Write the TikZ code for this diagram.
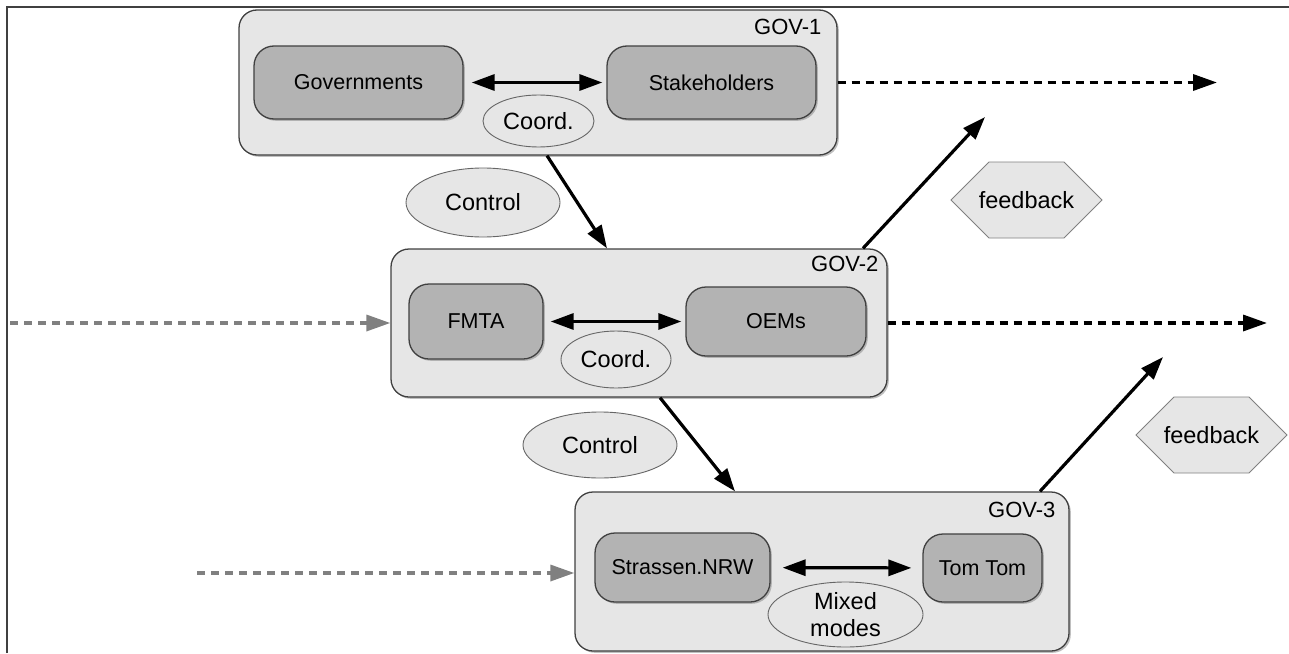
\documentclass[tikz,border=0pt]{standalone}
\usepackage{fontspec}
\setmainfont{Liberation Sans}
\usepackage{tikz}
\usetikzlibrary{positioning}
\usetikzlibrary{shapes.geometric}
\usetikzlibrary{arrows.meta}
\usetikzlibrary{shadows}
\definecolor{boxgray}{HTML}{E6E6E6}
\definecolor{actorgray}{HTML}{B3B3B3}
\definecolor{rimgray}{HTML}{404040}
\definecolor{flowgray}{HTML}{808080}

\begin{document}
\begin{tikzpicture}[
x=1pt, y=-1pt,
govbox/.style={rectangle, rounded corners=18pt, draw=rimgray, fill=boxgray, line width=1.3pt, inner sep=0,
  drop shadow={shadow xshift=1.8pt, shadow yshift=-1.8pt, opacity=0.5}},
actor/.style={rectangle, rounded corners=20pt, draw=rimgray, fill=actorgray, line width=1.3pt, inner sep=0,
  font=\fontsize{21.5}{25}\selectfont, drop shadow={shadow xshift=1.8pt, shadow yshift=-1.8pt, opacity=0.5}},
mode/.style={ellipse, draw=black!60, fill=boxgray, line width=0.9pt, inner sep=0, align=center,
  font=\fontsize{23.5}{27}\selectfont},
feedback/.style={rectangle, minimum width=153pt, minimum height=78pt, inner sep=0,
  font=\fontsize{23.5}{27}\selectfont,
  path picture={\draw[draw=black!50, fill=boxgray, line width=0.9pt]
    ([xshift=1pt]path picture bounding box.west)
    -- ([xshift=39pt, yshift=-1pt]path picture bounding box.north west)
    -- ([xshift=-39pt, yshift=-1pt]path picture bounding box.north east)
    -- ([xshift=-1pt]path picture bounding box.east)
    -- ([xshift=-39pt, yshift=1pt]path picture bounding box.south east)
    -- ([xshift=39pt, yshift=1pt]path picture bounding box.south west) -- cycle;}},
govtag/.style={anchor=north east, inner sep=0, font=\fontsize{22}{26}\selectfont},
link/.style={line width=3.2pt, -{Triangle[length=23pt,width=16pt]}},
both/.style={line width=3.2pt, {Triangle[length=23pt,width=16pt]}-{Triangle[length=23pt,width=16pt]}},
flowout/.style={line width=3.4pt, dash pattern=on 8pt off 6pt, -{Triangle[length=24pt,width=16pt]}},
flowin/.style={flowout, draw=flowgray}
]
\useasboundingbox (0,0) rectangle (1289,653);
\draw[rimgray, line width=2pt] (7,653) -- (7,7) -- (1289,7);

% level 1
\node[govbox, minimum width=598pt, minimum height=145pt] (gov1) at (538,82.5) {};
\node[govtag] (tag1) at ([xshift=-16pt, yshift=-10pt]gov1.north east) {GOV-1};
\node[actor, minimum width=209pt, minimum height=73pt] (govts) at (358.5,82.5) {Governments};
\node[actor, minimum width=209pt, minimum height=73pt] (stake) at (711.5,82.5) {Stakeholders};
\node[mode, minimum width=111pt, minimum height=52pt] (coord1) at (538.5,121) {Coord.};
\draw[both, shorten <=8pt, shorten >=4pt] (govts) -- (stake);

% level 2
\node[govbox, minimum width=496pt, minimum height=148pt] (gov2) at (639,323) {};
\node[govtag] (tag2) at ([xshift=-9pt, yshift=-8pt]gov2.north east) {GOV-2};
\node[actor, minimum width=134pt, minimum height=75pt] (fmta) at (476,321.5) {FMTA};
\node[actor, minimum width=180pt, minimum height=69pt] (oems) at (776,321.5) {OEMs};
\node[mode, minimum width=110pt, minimum height=57pt] (coord2) at (616,359.5) {Coord.};
\draw[both, shorten <=7pt, shorten >=4pt] (fmta) -- (oems);

% level 3
\node[govbox, minimum width=494pt, minimum height=159pt] (gov3) at (822,571.5) {};
\node[govtag] (tag3) at ([xshift=-14pt, yshift=-11pt]gov3.north east) {GOV-3};
\node[actor, minimum width=175pt, minimum height=69pt] (nrw) at (682.5,567.5) {Strassen.NRW};
\node[actor, minimum width=119pt, minimum height=68pt] (tomtom) at (982.5,568) {Tom Tom};
\node[mode, minimum width=155pt, minimum height=65pt] (mixed) at (845.5,614.5) {Mixed\\modes};
\draw[both, shorten <=12pt, shorten >=11pt] (nrw) -- (tomtom);

% control and feedback
\node[mode, minimum width=154pt, minimum height=69pt] (control1) at (483,202.5) {Control};
\node[mode, minimum width=154pt, minimum height=66pt] (control2) at (600,445) {Control};
\node[feedback] (feedback1) at (1026.5,200) {feedback};
\node[feedback] (feedback2) at (1211.5,435) {feedback};
\draw[link] ([xshift=9pt]gov1.south) -- ([xshift=-32pt]gov2.north);
\draw[link] ([xshift=21pt]gov2.south) -- ([xshift=-87pt]gov3.north);
\coordinate (up1) at (985,117);
\coordinate (up2) at (1163,357);
\draw[link] ([xshift=224pt]gov2.north) -- (up1);
\draw[link] ([xshift=218pt]gov3.north) -- (up2);

% flows
\coordinate (out1) at (1217,82.5);
\coordinate (out2) at (1267,323);
\coordinate (in2) at (10,323);
\coordinate (in3) at (197,573);
\draw[flowout] (gov1.east) -- (out1);
\draw[flowout] (gov2.east) -- (out2);
\draw[flowin] (in2) -- (gov2.west);
\draw[flowin] (in3) -- (gov3.west |- in3);
\end{tikzpicture}
\end{document}
